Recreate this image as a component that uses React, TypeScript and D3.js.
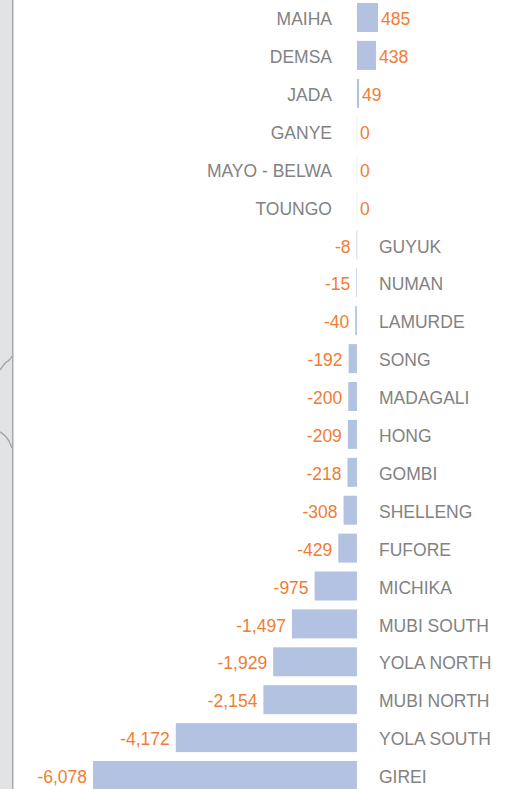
import React from "react";
import * as d3 from "d3";

const categories = [
  "MAIHA", "DEMSA", "JADA", "GANYE", "MAYO - BELWA", "TOUNGO", "GUYUK", "NUMAN",
  "LAMURDE", "SONG", "MADAGALI", "HONG", "GOMBI", "SHELLENG", "FUFORE", "MICHIKA",
  "MUBI SOUTH", "YOLA NORTH", "MUBI NORTH", "YOLA SOUTH", "GIREI",
];
const values = [
  485, 438, 49, 0, 0, 0, -8, -15, -40, -192, -200, -209, -218, -308, -429, -975,
  -1497, -1929, -2154, -4172, -6078,
];

const W = 519;
const H = 789;

export default function App() {
  const x = d3.scaleLinear().domain([d3.min(values)!, d3.max(values)!]).range([93, 378]);
  const y = d3
    .scaleBand<string>()
    .domain(categories)
    .range([3, 790])
    .paddingInner(0.235)
    .paddingOuter(0);
  const fmt = (v: number) => d3.format(",")(v).replace("\u2212", "-");
  const x0 = x(0);
  const bw = y.bandwidth();
  const font = "'Liberation Sans', Arial, sans-serif";
  return (
    <svg
      width={W}
      height={H}
      style={{ position: "absolute", left: 0, top: 0, background: "#fff" }}
    >
      <rect x={0} y={0} width={12} height={H} fill="#e2e3e5" />
      <path d="M0,370 C3,366 5,362 8,361 C10,360 11,358 12,356" fill="none" stroke="#a4a6ac" strokeWidth={1.4} />
      <path d="M0,432 C4,434 7,438 9,441 C10,443 11,446 12,448" fill="none" stroke="#a4a6ac" strokeWidth={1.4} />
      <rect x={12} y={0} width={1.5} height={H} fill="#aaaaaa" />
      {categories.map((c, i) => {
        const v = values[i];
        const yy = y(c)!;
        const cy = yy + bw / 2 + 1.5;
        const left = Math.min(x(v), x0);
        const w = Math.max(Math.abs(x(v) - x0), 0.6);
        const pos = v >= 0;
        return (
          <g key={c}>
            <rect x={v === 0 ? x0 - 0.3 : left} y={yy} width={w} height={bw} fill={v === 0 ? "#e3e8f2" : "#b3c2e0"} />
            <text
              x={pos ? 332 : 379}
              y={cy}
              dy="0.35em"
              textAnchor={pos ? "end" : "start"}
              fontFamily={font}
              fontSize={17.5}
              fill="#828282"
            >
              {c}
            </text>
            <text
              x={pos ? x(v) + 3 : x(v) - 6}
              y={cy}
              dy="0.35em"
              textAnchor={pos ? "start" : "end"}
              fontFamily={font}
              fontSize={17.5}
              fill="#f07d33"
            >
              {fmt(v)}
            </text>
          </g>
        );
      })}
    </svg>
  );
}
